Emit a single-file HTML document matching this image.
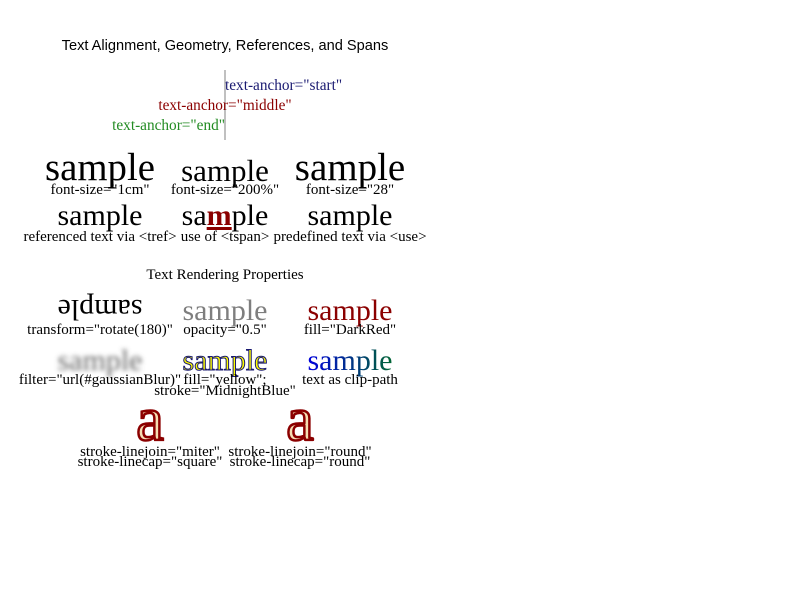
<!DOCTYPE html>
<html><head><meta charset="utf-8"><style>body{margin:0;background:#fff}svg{display:block}</style></head><body>
<svg width="800" height="600" viewBox="0 0 800 600" xmlns="http://www.w3.org/2000/svg" font-family="'Liberation Serif', serif">
<defs>
<filter id="gb" x="-20%" y="-50%" width="140%" height="200%"><feGaussianBlur stdDeviation="2.5"/></filter>
<linearGradient id="cg" x1="0" x2="1" y1="0" y2="0"><stop offset="0" stop-color="#0000dd"/><stop offset="1" stop-color="#006633"/></linearGradient>
</defs>
<text x="225" y="50" font-family="'Liberation Sans', sans-serif" font-size="14.6" text-anchor="middle">Text Alignment, Geometry, References, and Spans</text>
<line x1="225" y1="70" x2="225" y2="140" stroke="#aaa" stroke-width="1.5"/>
<g font-size="15.3">
<text x="225" y="90" fill="#191970">text-anchor="start"</text>
<text x="225" y="110" fill="#8b0000" text-anchor="middle">text-anchor="middle"</text>
<text x="225" y="130" fill="#228b22" text-anchor="end">text-anchor="end"</text>
</g>
<g text-anchor="middle">
<text x="100" y="180" font-size="38.8">sample</text>
<text x="225" y="181" font-size="31">sample</text>
<text x="350" y="180" font-size="39">sample</text>
<g font-size="15">
<text x="100" y="194">font-size="1cm"</text>
<text x="225" y="194">font-size="200%"</text>
<text x="350" y="194">font-size="28"</text>
</g>
<text x="100" y="225" font-size="30">sample</text>
<text x="225" y="225" font-size="30">sa<tspan fill="#8b0000" font-weight="bold" text-decoration="underline">m</tspan>ple</text>
<text x="350" y="225" font-size="30">sample</text>
<g font-size="15">
<text x="100" y="241">referenced text via &lt;tref&gt;</text>
<text x="225" y="241">use of &lt;tspan&gt;</text>
<text x="350" y="241">predefined text via &lt;use&gt;</text>
</g>
<text x="225" y="279" font-size="15">Text Rendering Properties</text>
<text x="0" y="0" font-size="30" transform="translate(100,300) rotate(180)">sample</text>
<text x="225" y="320" font-size="30" opacity="0.5">sample</text>
<text x="350" y="320" font-size="30" fill="#8b0000">sample</text>
<g font-size="15">
<text x="100" y="334">transform="rotate(180)"</text>
<text x="225" y="334">opacity="0.5"</text>
<text x="350" y="334">fill="DarkRed"</text>
</g>
<text x="100" y="370" font-size="30" fill="#666" filter="url(#gb)">sample</text>
<text x="225" y="370" font-size="30" fill="yellow" stroke="#191970" stroke-width="1">sample</text>
<text x="350" y="370" font-size="30" fill="url(#cg)">sample</text>
<g font-size="15">
<text x="100" y="384">filter="url(#gaussianBlur)"</text>
<text x="225" y="384">fill="yellow";</text>
<text x="225" y="395">stroke="MidnightBlue"</text>
<text x="350" y="384">text as clip-path</text>
</g>
<text x="150" y="440" font-size="62" fill="#f5deb3" stroke="#8b0000" stroke-width="2.5" stroke-linejoin="miter">a</text>
<text x="300" y="440" font-size="62" fill="#f5deb3" stroke="#8b0000" stroke-width="2.5" stroke-linejoin="round">a</text>
<g font-size="15">
<text x="150" y="456">stroke-linejoin="miter"</text>
<text x="150" y="466">stroke-linecap="square"</text>
<text x="300" y="456">stroke-linejoin="round"</text>
<text x="300" y="466">stroke-linecap="round"</text>
</g>
</g>
</svg>
</body></html>
